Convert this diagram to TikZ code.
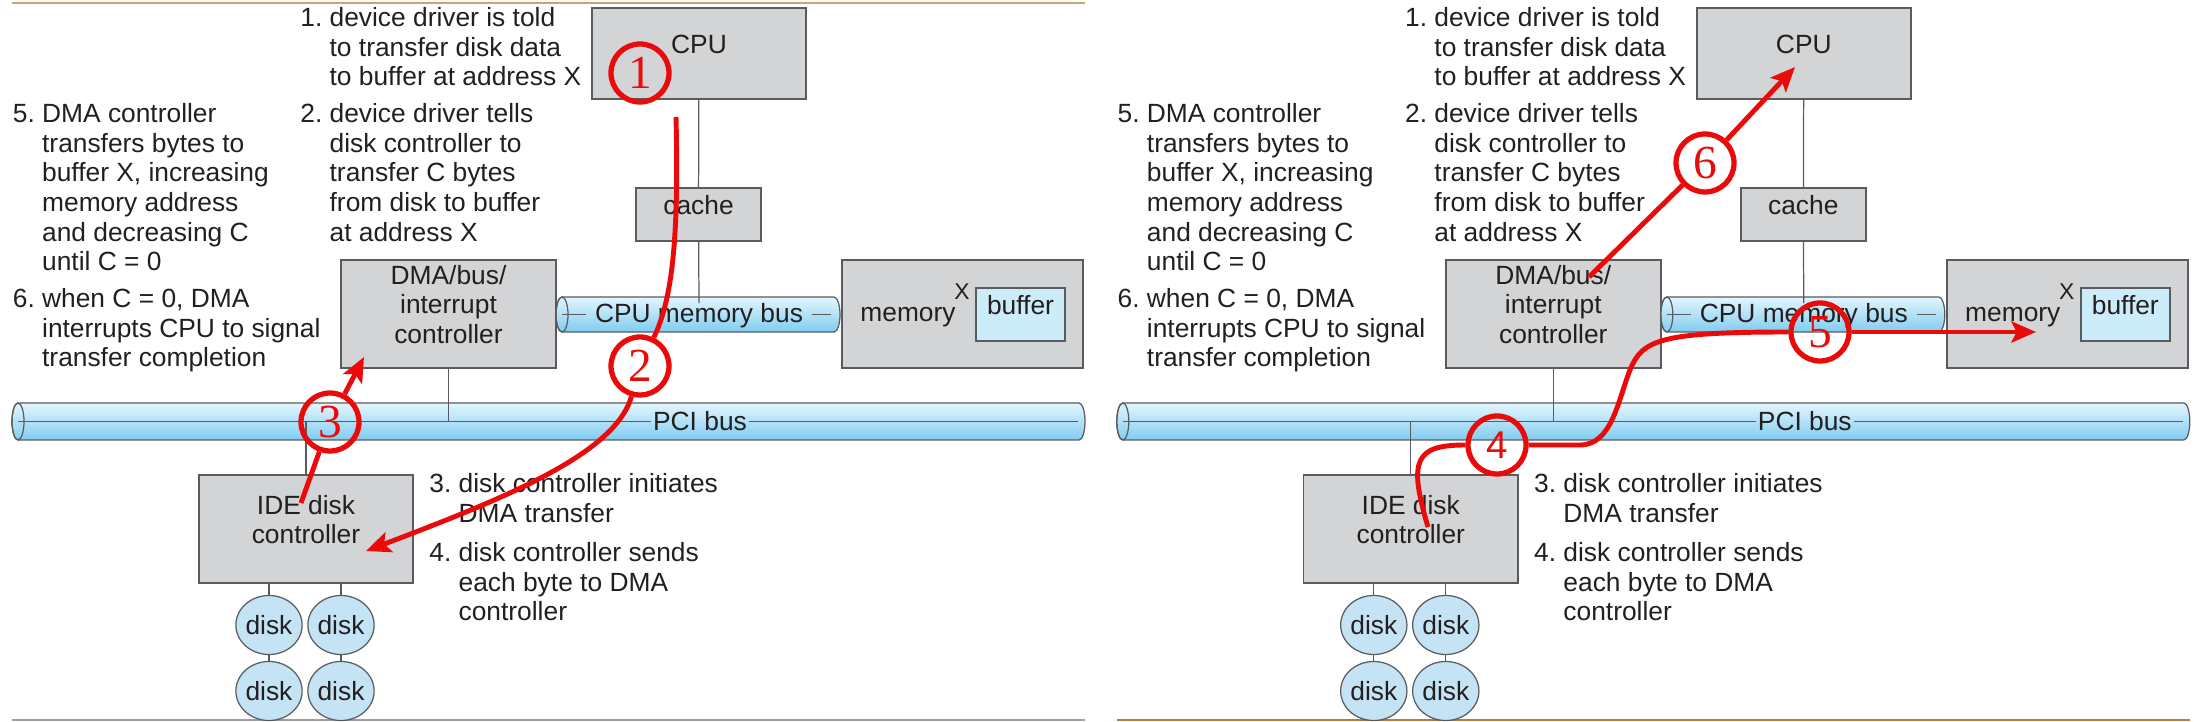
\documentclass[tikz,border=0pt]{standalone}
\usepackage{fontspec}
\setmainfont{Liberation Sans}
\newfontfamily\stepfont{Liberation Serif}
\usetikzlibrary{arrows.meta,shapes.geometric,fit}

\definecolor{boxgray}{RGB}{211,212,214}
\definecolor{boxline}{RGB}{90,91,94}
\definecolor{inkgray}{RGB}{35,31,32}
\definecolor{bufblue}{RGB}{204,236,250}
\definecolor{diskblue}{RGB}{196,228,246}
\definecolor{bustop}{RGB}{228,246,253}
\definecolor{busbottom}{RGB}{128,204,240}
\definecolor{markred}{RGB}{235,10,10}
\definecolor{ruletan}{RGB}{204,164,116}
\definecolor{rulegray}{RGB}{160,160,160}
\definecolor{ruleorange}{RGB}{192,120,56}

\newcommand{\pxu}{0.02cm}
\newcommand{\notefont}{\fontsize{15}{16.9}\selectfont}
\newcommand{\numnote}[2]{\begin{tabular}[t]{@{}l@{\ }l@{}}#1 & #2\end{tabular}}

\tikzset{
  hwbox/.style={draw=boxline, line width=0.8pt, fill=boxgray, inner sep=0pt,
    text=inkgray, align=center, font=\notefont},
  wire/.style={draw=boxline, line width=0.7pt},
  diskcell/.style={ellipse, draw=boxline, line width=0.7pt, fill=diskblue, inner sep=0pt,
    minimum width=54*\pxu, minimum height=59*\pxu, text=inkgray, font=\notefont},
  note/.style={anchor=base west, inner sep=0pt, text=inkgray, font=\notefont},
  buslabel/.style={anchor=base, inner sep=0pt, text=inkgray, font=\notefont},
  busbody/.style={draw=boxline, line width=0.7pt, top color=bustop, bottom color=busbottom},
  stepmark/.style={circle, draw=markred, line width=3pt, inner sep=0pt,
    minimum size=58*\pxu, text=markred, font=\stepfont\fontsize{27}{27}\selectfont},
  flow/.style={draw=markred, line width=2.8pt},
  flowarrow/.style={flow, -{Stealth[length=14pt,width=12pt,inset=3pt]}},
}

% bus tube: left face centre x, top y, right end x, bottom y
\newcommand{\busbar}[4]{%
  \shade[busbody] (#1,#2) -- ({#3-6},#2)
    arc[start angle=-90,end angle=90,x radius=6,y radius={(#4-#2)/2}] -- (#1,#4)
    arc[start angle=90,end angle=270,x radius=6,y radius={(#4-#2)/2}] -- cycle;
  \draw[wire] (#1,{(#2+#4)/2}) ellipse[x radius=6,y radius={(#4-#2)/2}];
}

% one copy of the system with its notes
\newcommand{\hardware}{%
  \node[hwbox, fit={(592,8) (806,99)}] (cpu) {CPU};
  \node[hwbox, fit={(636,188) (761,241)}] (cache) {cache};
  \node[hwbox, fit={(341,260) (556,368)}] (dma) {DMA/bus/\\interrupt\\controller};
  \node[hwbox, fit={(842,260) (1083,368)}] (mem) {};
  \node[buslabel] (memlabel) at (908,322) {memory};
  \node[buslabel, font=\fontsize{13}{15}\selectfont] (memx) at (962,300) {X};
  \node[hwbox, fill=bufblue, fit={(976,288) (1065,341)}] (buf) {buffer};
  \node[hwbox, fit={(199,475) (413,583)}] (ide) {IDE disk\\controller};

  \node[diskcell] (d1) at (269,625) {disk};
  \node[diskcell] (d2) at (341,625) {disk};
  \node[diskcell] (d3) at (269,691) {disk};
  \node[diskcell] (d4) at (341,691) {disk};

  % CPU memory bus
  \busbar{562}{297}{840}{332}
  \node[buslabel] (membus) at (699,322.5) {CPU memory bus};
  \coordinate (mbl) at (562,314.5);
  \coordinate (mbr) at (831,314.5);
  \draw[wire, shorten >=5pt] (mbl) -- (mbl -| membus.west);
  \draw[wire, shorten <=5pt] (mbr -| membus.east) -- (mbr);

  % PCI bus
  \busbar{18}{403}{1085}{440}
  \node[buslabel] (pci) at (700,430.5) {PCI bus};
  \coordinate (pcil) at (18,421.5);
  \coordinate (pcir) at (1078,421.5);
  \draw[wire, shorten >=1pt] (pcil) -- (pcil -| pci.west);
  \draw[wire, shorten <=1pt] (pcir -| pci.east) -- (pcir);

  \draw[wire] (cpu) -- (cache);
  \draw[wire] (cache) -- (membus.north);
  \draw[wire] (dma) -- (dma |- pcil);
  \draw[wire] (ide) -- (ide |- pcil);
  \draw[wire] (d1) -- (d1 |- ide.south);
  \draw[wire] (d2) -- (d2 |- ide.south);
  \draw[wire] (d1) -- (d3);
  \draw[wire] (d2) -- (d4);

  \node[note] (n1) at (300,26.5) {\numnote{1.}{device driver is told\\
    & to transfer disk data\\ & to buffer at address X}};
  \node[note] (n2) at (300,122.5) {\numnote{2.}{device driver tells\\
    & disk controller to\\ & transfer C bytes\\ & from disk to buffer\\ & at address X}};
  \node[note] (n5) at (12.5,122.5) {\numnote{5.}{DMA controller\\
    & transfers bytes to\\ & buffer X, increasing\\ & memory address\\
    & and decreasing C\\ & until C = 0}};
  \node[note] (n6) at (12.5,307.5) {\numnote{6.}{when C = 0, DMA\\
    & interrupts CPU to signal\\ & transfer completion}};
  \node[note] (n3) at (429,492.5) {\numnote{3.}{disk controller initiates\\
    & DMA transfer}};
  \node[note] (n4) at (429,561.5) {\numnote{4.}{disk controller sends\\
    & each byte to DMA\\ & controller}};
}

\begin{document}
\begin{tikzpicture}[x=0.02cm, y=-0.02cm]
  \useasboundingbox (0,0) rectangle (2194,722);

  \draw[ruletan, line width=1.2pt] (12,3) -- (1085,3);
  \draw[rulegray, line width=1pt] (12,720) -- (1085,720);
  \draw[ruleorange, line width=1.5pt] (1117,720) -- (2190,720);

  \begin{scope}[name prefix=L-]
    \hardware
  \end{scope}
  \begin{scope}[xshift=22.1cm, name prefix=R-]
    \hardware
  \end{scope}

  % steps 1 to 3
  \node[stepmark] (s1) at (640,73) {1};
  \node[stepmark] (s2) at (640,366) {2};
  \node[stepmark] (s3) at (330,422) {3};
  \coordinate (s1out) at (676,117);
  \coordinate (s2tip) at (366,551);
  \coordinate (s3in) at (301,503);
  \coordinate (s3tip) at (364,357);
  \draw[flow] (s1out) .. controls (679,240) and (672,300) .. (s2);
  \draw[flowarrow] (s2) .. controls (615,455) and (500,500) .. (s2tip);
  \draw[flow] (s3in) -- (s3);
  \draw[flowarrow] (s3) -- (s3tip);

  % steps 4 to 6
  \node[stepmark, font=\fontsize{22}{22}\selectfont] (s4) at (1497,445) {4};
  \node[stepmark] (s5) at (1820,332) {5};
  \node[stepmark] (s6) at (1705,163) {6};
  \coordinate (s4in) at (1428,527);
  \coordinate (s45a) at (1580,445);
  \coordinate (s45b) at (1630,370);
  \coordinate (s5tip) at (2036,332);
  \coordinate (s6in) at (1589,277);
  \coordinate (s6tip) at (1795,67);
  \draw[flow] (s4in) .. controls (1408,460) and (1415,445) .. (s4);
  \draw[flow] (s4) -- (s45a) .. controls (1612,445) and (1618,400) .. (s45b)
    .. controls (1642,340) and (1660,332) .. (s5);
  \draw[flowarrow] (s5) -- (s5tip);
  \draw[flow] (s6in) -- (s6);
  \draw[flowarrow] (s6) -- (s6tip);
\end{tikzpicture}
\end{document}
